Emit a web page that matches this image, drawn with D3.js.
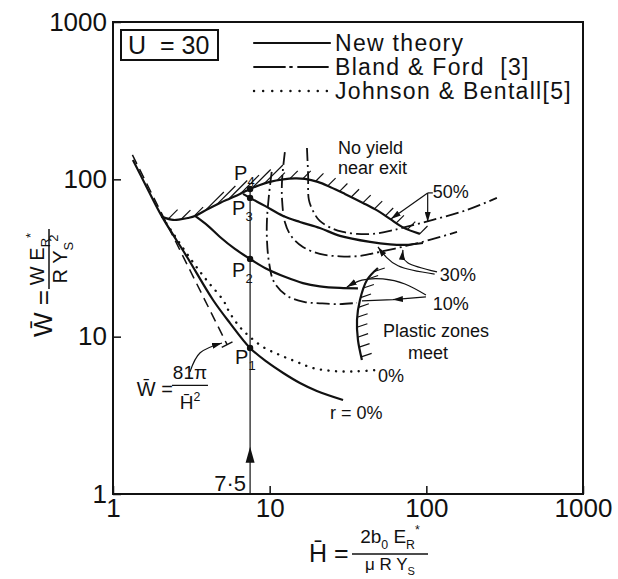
<!DOCTYPE html>
<html>
<head>
<meta charset="utf-8">
<script src="https://cdn.jsdelivr.net/npm/d3@7"></script>
<style>
  body { margin: 0; background: #fff; }
  text { font-family: "Liberation Sans", Arial, sans-serif; fill: #111; }
  .tick text { font-family: "Liberation Sans Narrow", "Liberation Sans", sans-serif; }
</style>
</head>
<body>
<div id="chart"></div>
<script>
// ---- values (H-bar, W-bar) ----
const newR0H  = [1.34, 1.65, 2.06, 2.97, 4.35, 5.58, 7.49, 9.61, 12.2, 15.6, 20.0, 29.4];
const newR0W  = [132.8, 88.2, 57.7, 32.1, 17.1, 12.2, 8.48, 6.91, 5.88, 5.08, 4.52, 3.96];
const new10H  = [3.34, 4.04, 4.82, 6.0, 7.49, 9.61, 12.5, 16.3, 20.9, 28.1, 36.6];
const new10W  = [58.5, 50.6, 43.0, 36.1, 31.2, 26.9, 24.0, 21.9, 20.9, 20.4, 20.3];
const new30H  = [6.76, 7.49, 9.33, 12.2, 15.6, 20.9, 28.1, 43.7, 58.6, 73.0, 95.1];
const new30W  = [80.8, 76.2, 67.8, 58.5, 53.6, 49.1, 43.7, 40.0, 38.6, 38.3, 39.4];
const new50H  = [2.06, 2.42, 2.68, 3.01, 3.34, 4.04, 4.82, 5.58, 6.46, 7.49, 8.67, 10.0, 12.2, 14.5, 16.8, 20.3, 24.3, 30.2, 39.4, 49.1, 58.6, 70.9, 91.0];
const new50W  = [57.7, 55.2, 55.6, 56.8, 58.5, 64.8, 70.8, 75.6, 80.8, 86.9, 92.1, 96.3, 99.9, 101.3, 100.6, 96.3, 89.5, 80.8, 70.8, 63.0, 56.0, 49.5, 45.0];

const bf10H = [10.3, 9.9, 9.61, 9.61, 9.9, 10.65, 12.9, 16.8, 20.9, 28.1, 36.1];
const bf10W = [111.4, 79.6, 55.2, 41.2, 29.8, 22.3, 18.2, 16.6, 16.3, 16.1, 16.4];
const bf30H = [12.5, 12.0, 12.0, 12.5, 13.7, 16.3, 20.9, 28.1, 37.7, 50.6, 74.1, 105, 157];
const bf30W = [149, 99.1, 74.0, 53.6, 43.7, 37.2, 33.6, 32.4, 32.6, 34.6, 37.7, 41.2, 46.3];
const bf50H = [17.3, 17.6, 17.8, 19.2, 20.9, 25.4, 29.4, 36.1, 45.6, 58.6, 69.9, 110, 182, 282];
const bf50W = [158, 106.8, 74.0, 61.1, 54.4, 48.4, 46.3, 45.0, 45.0, 47.0, 49.1, 55.2, 63.9, 76.2];

const jbH = [2.06, 3.10, 4.04, 5.04, 5.58, 6.46, 7.49, 9.06, 11.6, 14.9, 18.9, 25.4, 35.0, 48.4];
const jbW = [57.7, 31.6, 22.3, 17.1, 14.1, 11.5, 9.96, 8.60, 7.65, 6.91, 6.32, 6.05, 6.01, 6.14];

const eqH = [1.33, 5.35];          // W = 81pi / H^2
const eqW = [143, 8.9];

const plasticH = [49.1, 41.8, 37.7, 36.1, 36.6, 38.8];
const plasticW = [27.3, 22.9, 17.1, 12.8, 9.53, 7.11];

const hMark = 7.5;
const pointNames = ["1", "2", "3", "4"];
const pointW = [8.48, 31.2, 76.2, 86.9];

const xTicks = [1, 10, 100, 1000];
const yTicks = [1, 10, 100, 1000];

// ---- layout ----
const width = 618, height = 579;
const margin = { top: 22, right: 35, bottom: 85, left: 113 };

const svg = d3.select("#chart").append("svg")
  .attr("width", width).attr("height", height)
  .attr("viewBox", [0, 0, width, height]);

const x = d3.scaleLog().domain([1, 1000]).range([margin.left, width - margin.right]);
const y = d3.scaleLog().domain([1, 1000]).range([height - margin.bottom, margin.top]);

const zip = (h, w) => h.map((v, i) => [v, w[i]]);
const smooth = d3.line().x(d => x(d[0])).y(d => y(d[1])).curve(d3.curveCatmullRom.alpha(0.5));
const straight = d3.line().x(d => x(d[0])).y(d => y(d[1]));

svg.append("defs").append("marker")
  .attr("id", "arr").attr("viewBox", "0 0 10 6")
  .attr("refX", 10).attr("refY", 3)
  .attr("markerWidth", 10).attr("markerHeight", 6)
  .attr("markerUnits", "userSpaceOnUse").attr("orient", "auto")
  .append("path").attr("d", "M0,0L10,3L0,6Z").attr("fill", "#111");

// frame
svg.append("rect")
  .attr("x", x(1)).attr("y", y(1000))
  .attr("width", x(1000) - x(1)).attr("height", y(1) - y(1000))
  .attr("fill", "none").attr("stroke", "#111").attr("stroke-width", 2);

// axes, ticks pointing inwards
svg.append("g")
  .attr("transform", `translate(0,${y(1)})`)
  .call(d3.axisBottom(x).tickValues(xTicks).tickFormat(d3.format("d"))
    .tickSizeInner(-8).tickSizeOuter(0).tickPadding(5))
  .call(g => g.select(".domain").remove())
  .call(g => g.selectAll("line").attr("stroke", "#111").attr("stroke-width", 1.5))
  .call(g => g.selectAll("text").attr("font-size", 26).attr("fill", "#111"));

svg.append("g")
  .attr("transform", `translate(${x(1)},0)`)
  .call(d3.axisLeft(y).tickValues(yTicks).tickFormat(d3.format("d"))
    .tickSizeInner(-8).tickSizeOuter(0).tickPadding(6))
  .call(g => g.select(".domain").remove())
  .call(g => g.selectAll("line").attr("stroke", "#111").attr("stroke-width", 1.5))
  .call(g => g.selectAll("text").attr("font-size", 26).attr("fill", "#111"));

// ---- curves ----
const plot = svg.append("g").attr("fill", "none").attr("stroke", "#111");

plot.append("path").attr("d", straight(zip(eqH, eqW)))
  .attr("stroke-width", 1.5).attr("stroke-dasharray", "10,6");

const dashDot = "13,4,2,4";
[[bf10H, bf10W], [bf30H, bf30W], [bf50H, bf50W]].forEach(([h, w]) => {
  plot.append("path").attr("d", smooth(zip(h, w)))
    .attr("stroke-width", 1.8).attr("stroke-dasharray", dashDot);
});

plot.append("path").attr("d", smooth(zip(jbH, jbW)))
  .attr("stroke-width", 2.4).attr("stroke-linecap", "round").attr("stroke-dasharray", "0.1,7.5");

[[newR0H, newR0W], [new10H, new10W], [new30H, new30W]].forEach(([h, w]) => {
  plot.append("path").attr("d", smooth(zip(h, w))).attr("stroke-width", 2.2);
});
const envelope = plot.append("path").attr("d", smooth(zip(new50H, new50W))).attr("stroke-width", 2.2);
const plastic = plot.append("path").attr("d", smooth(zip(plasticH, plasticW))).attr("stroke-width", 2.2);

// hatching along a boundary path
function hatch(path, step, lenAt, dir) {
  const node = path.node(), total = node.getTotalLength();
  const g = svg.append("g").attr("stroke", "#111").attr("stroke-width", 1.2);
  for (let s = step / 2; s < total; s += step) {
    const p = node.getPointAtLength(s);
    const L = lenAt(p);
    if (!L) continue;
    g.append("line").attr("x1", p.x).attr("y1", p.y)
      .attr("x2", p.x + dir[0] * L).attr("y2", p.y + dir[1] * L);
  }
}
hatch(envelope, 13, p => p.x < x(3.3) ? 13 : p.x < x(9.5) ? 26 : 11, [0.71, -0.71]);
hatch(plastic, 10, p => 11, [0.95, -0.32]);

// eq line end tick
{
  const a = [x(eqH[0]), y(eqW[0])], b = [x(eqH[1]), y(eqW[1])];
  const len = Math.hypot(b[0] - a[0], b[1] - a[1]);
  const nx = -(b[1] - a[1]) / len, ny = (b[0] - a[0]) / len;
  svg.append("line").attr("stroke", "#111").attr("stroke-width", 1.5)
    .attr("x1", b[0] - nx * 6).attr("y1", b[1] - ny * 6)
    .attr("x2", b[0] + nx * 6).attr("y2", b[1] + ny * 6);
}

// rich text helper (sub / superscripts)
function rich(sel, px, py, parts, size, anchor) {
  const t = sel.append("text").attr("x", px).attr("y", py)
    .attr("font-size", size).attr("text-anchor", anchor || "start");
  let shift = 0;
  parts.forEach(p => {
    const target = p.sub ? size * 0.3 : p.sup ? -size * 0.45 : 0;
    t.append("tspan").attr("dy", target - shift)
      .attr("font-size", p.sub || p.sup ? size * 0.65 : size)
      .text(p.t);
    shift = target;
  });
  return t;
}

// ---- H = 7.5 marker and points P1..P4 ----
svg.append("line").attr("stroke", "#111").attr("stroke-width", 1.2)
  .attr("x1", x(hMark)).attr("x2", x(hMark))
  .attr("y1", y(1)).attr("y2", y(d3.max(pointW)));
svg.append("path").attr("fill", "#111")
  .attr("d", `M${x(hMark)},${y(2)} l-4.5,16 l9,0 Z`);
svg.append("text").attr("x", x(hMark) - 4).attr("y", y(1) - 3)
  .attr("text-anchor", "end").attr("font-size", 22)
  .attr("font-family", "'Liberation Sans Narrow', 'Liberation Sans', sans-serif")
  .text("7·5");

const pOffset = [[-15, 16], [-18, 18], [-18, 17], [-16, -9]];
pointW.forEach((w, i) => {
  svg.append("circle").attr("cx", x(hMark)).attr("cy", y(w)).attr("r", 3.2).attr("fill", "#111");
  rich(svg, x(hMark) + pOffset[i][0], y(w) + pOffset[i][1],
    [{ t: "P" }, { t: pointNames[i], sub: true }], 20, "start");
});

// ---- annotation arrows (anchored in data units) ----
const arrows = [
  { pts: [[102, 82], [59.4, 56.0]] },
  { pts: [[102, 82], [102, 53.6]] },
  { pts: [[117, 25.8], [76, 29.5], [70.9, 35.6]] },
  { pts: [[113, 25.0], [66, 28.2], [49.1, 37.2]] },
  { pts: [[99.4, 18.4], [73, 21.6], [52.8, 23.3], [38.8, 22.9], [31.1, 20.7]] },
  { pts: [[3.10, 5.97], [3.6, 7.9], [4.96, 9.12]] }
];
const arrowLine = d3.line().x(d => x(d[0])).y(d => y(d[1])).curve(d3.curveNatural);
arrows.forEach(a => {
  svg.append("path").attr("d", arrowLine(a.pts))
    .attr("fill", "none").attr("stroke", "#111").attr("stroke-width", 1.2)
    .attr("marker-end", "url(#arr)");
});
svg.append("path").attr("d", straight([[99.4, 17.9], [61.2, 17.2], [38.8, 16.9]]))
  .attr("fill", "none").attr("stroke", "#111").attr("stroke-width", 1.2)
  .attr("marker-mid", "url(#arr)");
// 50% label connector
svg.append("line").attr("stroke", "#111").attr("stroke-width", 1.2)
  .attr("x1", x(102)).attr("x2", x(110)).attr("y1", y(82)).attr("y2", y(82));

// ---- text labels (anchored in data units) ----
const labels = [
  { t: "No yield", h: 27.3, w: 145 },
  { t: "near exit", h: 27.3, w: 108 },
  { t: "50%", h: 110, w: 76 },
  { t: "30%", h: 122, w: 22.6 },
  { t: "10%", h: 110, w: 14.8 },
  { t: "Plastic zones", h: 52.8, w: 9.9 },
  { t: "meet", h: 76.3, w: 7.2 },
  { t: "0%", h: 49.1, w: 5.15 },
  { t: "r = 0%", h: 24.3, w: 3.0 }
];
labels.forEach(l => {
  svg.append("text").attr("x", x(l.h)).attr("y", y(l.w)).attr("font-size", 18).text(l.t);
});

// formula label near the dashed line
rich(svg, x(1.42), y(4.2), [{ t: "W\u0304 =" }], 20, "start");
rich(svg, x(3.1), y(5.35), [{ t: "81π" }], 19, "middle");
svg.append("line").attr("stroke", "#111").attr("stroke-width", 1.3)
  .attr("x1", x(3.1) - 18).attr("x2", x(3.1) + 18).attr("y1", y(4.9)).attr("y2", y(4.9));
rich(svg, x(3.1), y(3.45), [{ t: "H\u0304" }, { t: "2", sup: true }], 19, "middle");

// ---- legend ----
const legend = svg.append("g");
legend.append("rect").attr("x", 121).attr("y", 30).attr("width", 97).attr("height", 30)
  .attr("fill", "none").attr("stroke", "#111").attr("stroke-width", 2);
legend.append("text").attr("x", 128).attr("y", 54).attr("font-size", 25)
  .attr("xml:space", "preserve").text("U  = 30");
const legendItems = [
  { t: "New theory", dash: null, w: 2.2 },
  { t: "Bland & Ford  [3]", dash: "31,5,2,6,30", w: 1.8 },
  { t: "Johnson & Bentall[5]", dash: "0.1,9", w: 2.4 }
];
legendItems.forEach((d, i) => {
  const ly = 43 + i * 24;
  legend.append("line").attr("x1", 254).attr("x2", 330).attr("y1", ly).attr("y2", ly)
    .attr("stroke", "#111").attr("stroke-width", d.w).attr("stroke-linecap", "round")
    .attr("stroke-dasharray", d.dash);
  legend.append("text").attr("x", 335).attr("y", ly + 8).attr("font-size", 23)
    .attr("letter-spacing", 1.3)
    .attr("xml:space", "preserve").text(d.t);
});

// ---- axis titles ----
const yt = svg.append("g").attr("transform", "translate(52,337) rotate(-90)");
rich(yt, 0, 0, [{ t: "W\u0304 =" }], 26, "start");
rich(yt, 78, -8, [{ t: "W E" }, { t: "R", sub: true }, { t: "*", sup: true }], 20, "middle");
yt.append("line").attr("x1", 48).attr("x2", 108).attr("y1", -3).attr("y2", -3)
  .attr("stroke", "#111").attr("stroke-width", 1.5);
rich(yt, 78, 15, [{ t: "R Y" }, { t: "S", sub: true }, { t: "2", sup: true }], 20, "middle");

rich(svg, 309, 562, [{ t: "H\u0304 =" }], 25, "start");
rich(svg, 390, 543, [{ t: "2b" }, { t: "0", sub: true }, { t: " E" }, { t: "R", sub: true }, { t: "*", sup: true }], 19, "middle");
svg.append("line").attr("x1", 352).attr("x2", 428).attr("y1", 554).attr("y2", 554)
  .attr("stroke", "#111").attr("stroke-width", 1.5);
rich(svg, 390, 570, [{ t: "μ R Y" }, { t: "S", sub: true }], 17, "middle");
</script>
</body>
</html>
